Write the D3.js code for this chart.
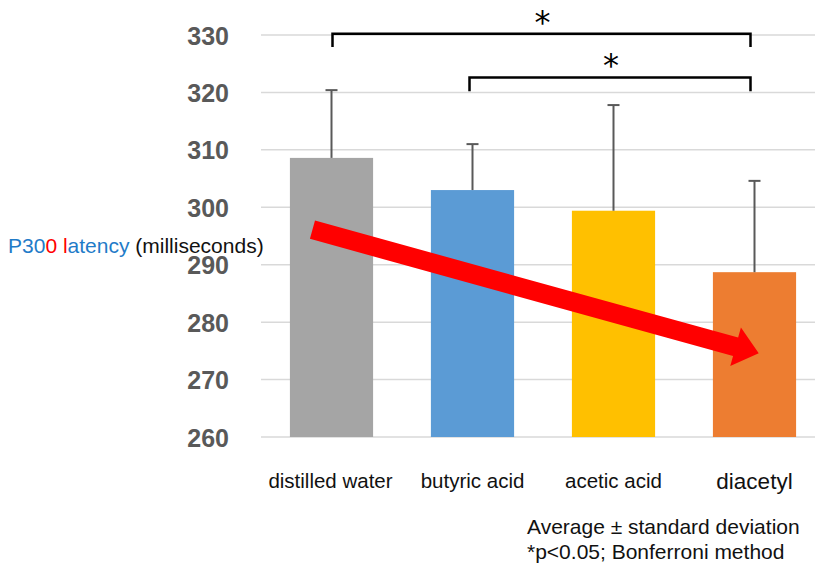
<!DOCTYPE html>
<html>
<head>
<meta charset="utf-8">
<script src="https://cdn.jsdelivr.net/npm/d3@7"></script>
<style>
  body { margin: 0; background: #fff; }
  svg text { font-family: Arial, "Liberation Sans", sans-serif; }
</style>
</head>
<body>
<div id="chart"></div>
<script>
// data
var categories = ['distilled water', 'butyric acid', 'acetic acid', 'diacetyl']
var means = [308.6, 303.0, 299.4, 288.7]
var sds = [11.8, 8.0, 18.4, 15.9]
var colors = ['#A5A5A5', '#5B9BD5', '#FFC000', '#ED7D31']
var yTicks = [260, 270, 280, 290, 300, 310, 320, 330]
// significance brackets: categories joined, level value
var brackets = [
  {from: 0, to: 3, level: 330.2, drop: 2.3, nudge: [1, -4]},
  {from: 1, to: 3, level: 322.6, drop: 2.4, nudge: [-3, -4]}
]
// trend arrow, band offsets (fraction of step) and values
var arrowFrom = {cat: 0, off: 0.16, value: 296.1}
var arrowTo = {cat: 3, off: 0.325, value: 274.6}

var W = 815, H = 565
var svg = d3.select('#chart').append('svg').attr('width', W).attr('height', H)

var x = d3.scaleBand().domain(d3.range(categories.length)).range([261, 825]).paddingInner(0.41).paddingOuter(0.205)
var y = d3.scaleLinear().domain([260, 330]).range([437, 35])

// gridlines
svg.append('g')
  .selectAll('line').data(yTicks).join('line')
  .attr('x1', 261).attr('x2', W)
  .attr('y1', d => y(d)).attr('y2', d => y(d))
  .attr('stroke', '#d9d9d9').attr('stroke-width', 1.5)

// y axis labels
var yAxis = svg.append('g').attr('transform', 'translate(229,0)')
  .call(d3.axisLeft(y).tickValues(yTicks).tickSize(0).tickPadding(0))
yAxis.select('.domain').remove()
yAxis.selectAll('text')
  .attr('fill', '#595959').attr('font-size', 25).attr('font-weight', 'bold')
  .attr('dy', '0.36em')

// bars
svg.append('g').selectAll('rect').data(means).join('rect')
  .attr('x', (d, i) => x(i)).attr('width', x.bandwidth())
  .attr('y', d => y(d)).attr('height', d => y(260) - y(d))
  .attr('fill', (d, i) => colors[i])

// error bars
var eb = svg.append('g').attr('stroke', '#595959').attr('stroke-width', 2)
means.forEach(function(m, i){
  var cx = x(i) + x.bandwidth() / 2
  eb.append('line').attr('x1', cx).attr('x2', cx).attr('y1', y(m)).attr('y2', y(m + sds[i]))
  eb.append('line').attr('x1', cx - 6).attr('x2', cx + 6).attr('y1', y(m + sds[i])).attr('y2', y(m + sds[i]))
})

// x labels
svg.append('g').selectAll('text').data(categories).join('text')
  .attr('x', (d, i) => x(i) + x.bandwidth() / 2 - (i == 0 ? 1 : 0))
  .attr('y', (d, i) => i == 3 ? 489 : 488)
  .attr('text-anchor', 'middle')
  .attr('font-size', (d, i) => i == 3 ? 22.5 : 20.5)
  .attr('fill', '#111')
  .text(d => d)

// significance brackets
brackets.forEach(function(b){
  var x1 = x(b.from) + x.bandwidth() / 2 + b.nudge[0], x2 = x(b.to) + x.bandwidth() / 2 + b.nudge[1]
  var yl = y(b.level), yd = y(b.level - b.drop)
  svg.append('path')
    .attr('d', 'M' + x1 + ',' + yd + 'V' + yl + 'H' + x2 + 'V' + yd)
    .attr('fill', 'none').attr('stroke', '#000').attr('stroke-width', 2.5)
  svg.append('text')
    .attr('x', (x1 + x2) / 2 + 1).attr('y', yl - 1)
    .attr('text-anchor', 'middle').attr('font-size', 32).attr('fill', '#000')
    .style('font-family', '"DejaVu Sans", sans-serif')
    .text('*')
})

// red trend arrow
var ax1 = x(arrowFrom.cat) + x.step() * arrowFrom.off, ay1 = y(arrowFrom.value)
var ax2 = x(arrowTo.cat) + x.step() * arrowTo.off, ay2 = y(arrowTo.value)
var ang = Math.atan2(ay2 - ay1, ax2 - ax1) * 180 / Math.PI
var len = Math.hypot(ax2 - ax1, ay2 - ay1)
var shaft = 19, headW = 40, headL = 24
svg.append('path')
  .attr('transform', 'translate(' + ax1 + ',' + ay1 + ') rotate(' + ang + ')')
  .attr('d', 'M0,' + (-shaft / 2) + 'H' + (len - headL) + 'V' + (-headW / 2) + 'L' + len + ',0L' + (len - headL) + ',' + (headW / 2) + 'V' + (shaft / 2) + 'H0Z')
  .attr('fill', '#FF0000')

// y axis title
var yt = svg.append('text').attr('x', 8).attr('y', 253).attr('font-size', 21)
yt.append('tspan').attr('fill', '#1F7BC8').text('P30')
yt.append('tspan').attr('fill', '#FF0000').text('0')
yt.append('tspan').attr('fill', '#1F7BC8').text(' ')
yt.append('tspan').attr('fill', '#FF0000').text('l')
yt.append('tspan').attr('fill', '#1F7BC8').text('atency')
yt.append('tspan').attr('fill', '#111').text(' (milliseconds)')

// notes
svg.append('text').attr('x', 527).attr('y', 534).attr('font-size', 21).attr('fill', '#111')
  .text('Average \u00b1 standard deviation')
svg.append('text').attr('x', 527).attr('y', 559).attr('font-size', 21).attr('fill', '#111')
  .text('*p<0.05; Bonferroni method')
</script>
</body>
</html>
